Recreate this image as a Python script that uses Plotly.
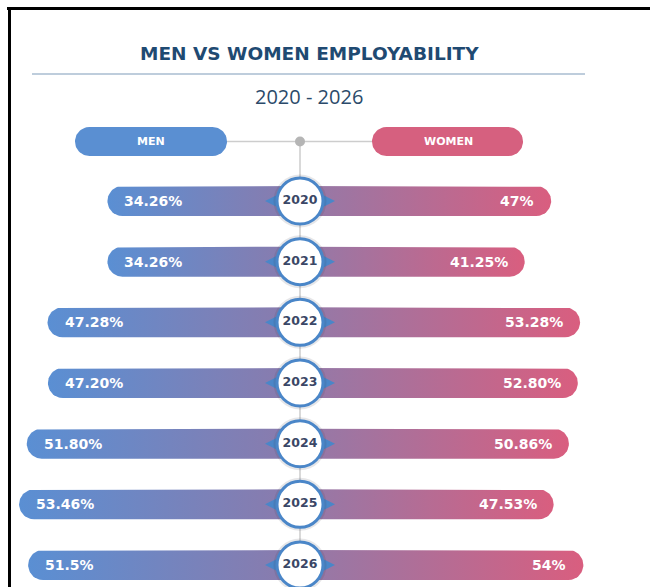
import numpy as np
import plotly.graph_objects as go

# ---------------- data ----------------
years = ["2020", "2021", "2022", "2023", "2024", "2025", "2026"]
men = [34.26, 34.26, 47.28, 47.20, 51.80, 53.46, 51.5]
women = [47, 41.25, 53.28, 52.80, 50.86, 47.53, 54]
men_labels = ["34.26%", "34.26%", "47.28%", "47.20%", "51.80%", "53.46%", "51.5%"]
women_labels = ["47%", "41.25%", "53.28%", "52.80%", "50.86%", "47.53%", "54%"]

# ---------------- layout constants ----------------
W, H = 651, 587
PX_X = 4.6          # pixels per percentage point
CX = 300            # hub centre in pixels
ROW0, ROWH = 201, 60.67
HUB = 7.6           # hub offset in percentage units
X0, X1 = -CX / PX_X, (W - CX) / PX_X
Y_TOP, Y_BOT = -ROW0 / ROWH, (H - ROW0) / ROWH

BLUE = "#5a8fd2"
PINK = "#d6607f"
MEN_SCALE = [[0, "#5a8fd3"], [1, "#8c7aab"]]
WOMEN_SCALE = [[0, "#927aa9"], [1, "#d95e7f"]]
RING = "#4a86c8"


def py2row(py):
    return (py - ROW0) / ROWH


def px2x(px):
    return (px - CX) / PX_X


def half_pill(x_in, x_out, yc, r_px=15):
    rx, ry = r_px / PX_X, r_px / ROWH
    s = np.sign(x_out - x_in)
    cx = x_out - s * rx
    t = np.linspace(-np.pi / 2, np.pi / 2, 31)
    xs = [x_in] + list(cx + s * rx * np.cos(t)) + [x_in, x_in]
    ys = [yc - ry] + list(yc + ry * np.sin(t)) + [yc + ry, yc - ry]
    return xs, ys


def pill(xa, xb, yc, r_px=14.5):
    rx, ry = r_px / PX_X, r_px / ROWH
    t = np.linspace(-np.pi / 2, np.pi / 2, 31)
    rxs = list((xb - rx) + rx * np.cos(t))
    rys = list(yc + ry * np.sin(t))
    lxs = list((xa + rx) - rx * np.cos(t))
    lys = list(yc - ry * np.sin(t))
    xs = rxs + lxs + [rxs[0]]
    ys = rys + lys + [rys[0]]
    return xs, ys


fig = go.Figure()

# header pills
hy = py2row(141.5)
for xa, xb, col in [(px2x(75), px2x(227), BLUE), (px2x(372), px2x(523), PINK)]:
    xs, ys = pill(xa, xb, hy)
    fig.add_trace(go.Scatter(x=xs, y=ys, mode="lines", fill="toself", fillcolor=col,
                             line=dict(width=0), hoverinfo="skip", showlegend=False))

# bars
for i, (m, w) in enumerate(zip(men, women)):
    xs, ys = half_pill(0, -(HUB + m), i)
    fig.add_trace(go.Scatter(x=xs, y=ys, mode="lines", fill="toself",
                             fillgradient=dict(type="horizontal", colorscale=MEN_SCALE),
                             line=dict(width=0), hoverinfo="skip", showlegend=False))
    xs, ys = half_pill(0, HUB + w, i)
    fig.add_trace(go.Scatter(x=xs, y=ys, mode="lines", fill="toself",
                             fillgradient=dict(type="horizontal", colorscale=WOMEN_SCALE),
                             line=dict(width=0), hoverinfo="skip", showlegend=False))

rows = list(range(len(years)))
# hub pointers
fig.add_trace(go.Scatter(x=[0] * len(years), y=rows, mode="markers",
                         marker=dict(symbol="diamond-wide", size=50, color=RING),
                         hoverinfo="skip", showlegend=False))
# shadow halo
fig.add_trace(go.Scatter(x=[0] * len(years), y=rows, mode="markers",
                         marker=dict(symbol="circle", size=53, color="rgba(60,60,80,0.13)"),
                         hoverinfo="skip", showlegend=False))
# hub circles with years
fig.add_trace(go.Scatter(x=[0] * len(years), y=rows, mode="markers+text",
                         marker=dict(symbol="circle", size=46, color="white",
                                     line=dict(color=RING, width=3)),
                         text=years, textposition="middle center",
                         textfont=dict(family="DejaVu Sans", size=12.5, color="#3a4766", weight="bold"),
                         hoverinfo="skip", showlegend=False))
# top gray dot
fig.add_trace(go.Scatter(x=[0], y=[hy], mode="markers",
                         marker=dict(size=10, color="#b5b5b5"), hoverinfo="skip", showlegend=False))

annotations = []
for i in rows:
    annotations.append(dict(x=-(HUB + men[i]), y=i, xref="x", yref="y", text=men_labels[i],
                            showarrow=False, xanchor="left", xshift=15,
                            font=dict(family="DejaVu Sans", size=14, color="white", weight="bold")))
    annotations.append(dict(x=HUB + women[i], y=i, xref="x", yref="y", text=women_labels[i],
                            showarrow=False, xanchor="right", xshift=-15,
                            font=dict(family="DejaVu Sans", size=14, color="white", weight="bold")))

annotations += [
    dict(x=309 / W, y=1 - 54 / H, xref="paper", yref="paper", text="MEN VS WOMEN EMPLOYABILITY",
         showarrow=False, xanchor="center", yanchor="middle",
         font=dict(family="DejaVu Sans", size=18.5, color="#1f4a72", weight="bold")),
    dict(x=309 / W, y=1 - 96 / H, xref="paper", yref="paper", text="2020 - 2026",
         showarrow=False, xanchor="center", yanchor="middle",
         font=dict(family="Open Sans", size=20, color="#2b4a6a")),
    dict(x=151 / W, y=1 - 141.5 / H, xref="paper", yref="paper", text="MEN",
         showarrow=False, xanchor="center", yanchor="middle",
         font=dict(family="DejaVu Sans", size=11, color="white", weight="bold")),
    dict(x=448 / W, y=1 - 141.5 / H, xref="paper", yref="paper", text="WOMEN",
         showarrow=False, xanchor="center", yanchor="middle",
         font=dict(family="DejaVu Sans", size=11, color="white", weight="bold")),
]

shapes = [
    # centre vertical line
    dict(type="line", xref="paper", yref="paper", x0=CX / W, x1=CX / W, y0=1 - 142 / H, y1=0,
         line=dict(color="#cdcdcd", width=1.5), layer="below"),
    # header connector
    dict(type="line", xref="paper", yref="paper", x0=227 / W, x1=372 / W, y0=1 - 141.5 / H, y1=1 - 141.5 / H,
         line=dict(color="#cdcdcd", width=1.5), layer="below"),
    # title underline
    dict(type="line", xref="paper", yref="paper", x0=32 / W, x1=585 / W, y0=1 - 74 / H, y1=1 - 74 / H,
         line=dict(color="#a9bdd0", width=1.5)),
    # frame
    dict(type="rect", xref="paper", yref="paper", x0=7 / W, x1=(W - 1) / W, y0=1 - 10 / H, y1=1 - 7 / H,
         line=dict(width=0), fillcolor="black"),
    dict(type="rect", xref="paper", yref="paper", x0=8 / W, x1=11 / W, y0=0, y1=1 - 7 / H,
         line=dict(width=0), fillcolor="black"),
]

fig.update_layout(
    width=W, height=H, autosize=False,
    margin=dict(l=0, r=0, t=0, b=0),
    paper_bgcolor="white", plot_bgcolor="white",
    xaxis=dict(range=[X0, X1], visible=False, fixedrange=True),
    yaxis=dict(range=[Y_BOT, Y_TOP], visible=False, fixedrange=True),
    annotations=annotations, shapes=shapes, showlegend=False,
)

fig.write_html("out.html", config={"displayModeBar": False})
